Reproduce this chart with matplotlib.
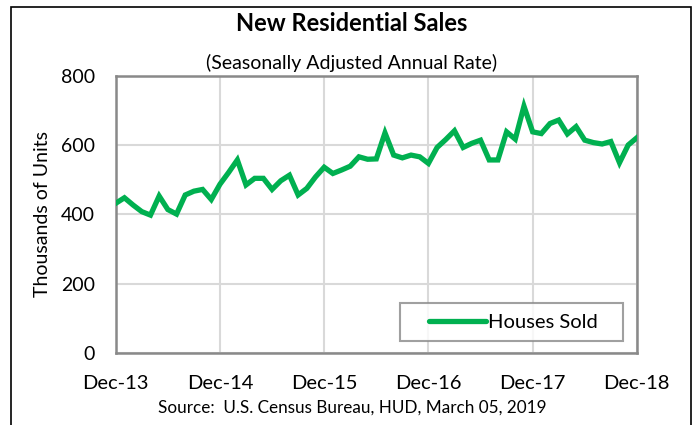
import numpy as np
import matplotlib.pyplot as plt
import pandas as pd
from matplotlib.patches import Rectangle

# monthly new home sales, thousands (SAAR), Dec-13 .. Dec-18
months = pd.date_range('2013-12-01', '2018-12-01', freq='MS')
sold_2013 = [432]
sold_2014 = [448, 427, 408, 398, 453, 414, 401, 456, 467, 472, 443, 487]
sold_2015 = [521, 557, 485, 504, 504, 472, 497, 513, 456, 475, 508, 536]
sold_2016 = [518, 528, 539, 566, 559, 560, 635, 571, 563, 571, 566, 547]
sold_2017 = [593, 616, 641, 593, 605, 614, 557, 557, 638, 617, 712, 638]
sold_2018 = [633, 662, 672, 632, 653, 614, 607, 603, 610, 549, 600, 621]
sold = sold_2013 + sold_2014 + sold_2015 + sold_2016 + sold_2017 + sold_2018

tick_labels = ['Dec-13', 'Dec-14', 'Dec-15', 'Dec-16', 'Dec-17', 'Dec-18']
yticks = [0, 200, 400, 600, 800]

plt.rcParams['font.family'] = ['Lato', 'DejaVu Sans']

fig = plt.figure(figsize=(6.93, 4.25), dpi=100)
ax = fig.add_axes([0.167, 0.169, 0.752, 0.653])

x = np.arange(len(sold))
ax.plot(x, sold, color='#00B050', lw=3.8, solid_joinstyle='miter', label='Houses Sold   ', zorder=3)

ax.set_xlim(0, len(sold) - 1)
ax.set_ylim(0, 800)
ax.set_xticks(np.arange(0, len(sold), 12))
ax.set_xticklabels(tick_labels, fontsize=14.5)
ax.set_yticks(yticks)
ax.set_yticklabels([str(v) for v in yticks], fontsize=14)
ax.tick_params(length=0)
ax.tick_params(axis='x', pad=16)
ax.tick_params(axis='y', pad=15)
ax.grid(True, color='#d9d9d9', lw=1.5)
for s in ax.spines.values():
    s.set_color('#898989')
    s.set_linewidth(1.8)
ax.set_ylabel('Thousands of Units', fontsize=14, labelpad=7)

leg = ax.legend(loc='lower right', bbox_to_anchor=(0.974, 0.045), fontsize=14.5,
                handlelength=3.8, frameon=True, fancybox=False, borderpad=0.5,
                handletextpad=0.1, borderaxespad=0)
leg.get_frame().set_edgecolor('#898989')
leg.get_frame().set_linewidth(1.5)
hl = leg.get_lines()[0]
hl.set_solid_capstyle('round')
xd = np.asarray(hl.get_xdata(), dtype=float)
x0 = xd[0] + (xd[-1] - xd[0]) * 0.25
hl.set_xdata(np.linspace(x0, xd[-1], len(xd)))

fig.text(0.508, 0.945, 'New Residential Sales', ha='center', va='center',
         fontsize=17, fontweight='bold')
fig.text(0.508, 0.853, '(Seasonally Adjusted Annual Rate)', ha='center', va='center',
         fontsize=14)
fig.text(0.508, 0.04, 'Source:  U.S. Census Bureau, HUD, March 05, 2019', ha='center',
         va='center', fontsize=12.3)

fig.patches.append(Rectangle((11 / 693, -0.01), 680 / 693, 1 - 7 / 425 + 0.01,
                             transform=fig.transFigure, fill=False, ec='black', lw=1.2))

fig.savefig('out.png', dpi=100)
